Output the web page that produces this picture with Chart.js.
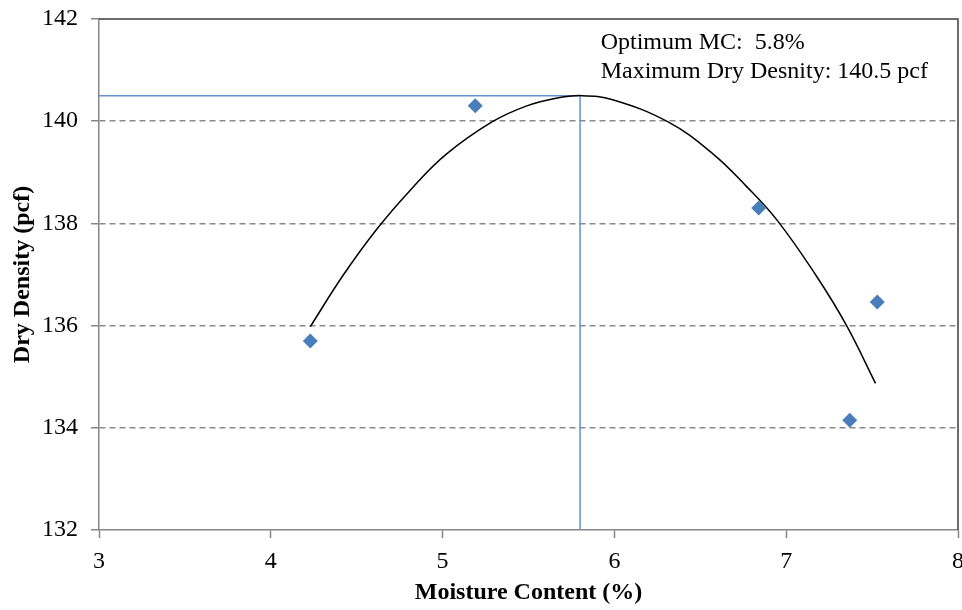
<!DOCTYPE html>
<html>
<head>
<meta charset="utf-8">
<title>Proctor Compaction Curve</title>
<script src="https://cdn.jsdelivr.net/npm/chart.js@4.4.1/dist/chart.umd.min.js"></script>
<style>
    html, body { margin: 0; padding: 0; background: #fff; }
    #wrap { width: 962px; height: 610px; position: relative; }
</style>
</head>
<body>
<div id="wrap"><canvas id="chart"></canvas></div>
<script>
// ---- Test results (moisture %, dry density pcf) ----
const moisture = [4.23, 5.19, 6.84, 7.37, 7.53];
const density = [135.70, 140.30, 138.30, 134.15, 136.46];

// ---- Fitted compaction curve, sampled along its length ----
const fitMoisture = [4.23, 4.42, 4.62, 4.82, 5.02, 5.29, 5.49, 5.66, 5.81, 5.99, 6.31, 6.57, 6.77, 6.95, 7.17, 7.35, 7.52];
const fitDensity = [135.98, 136.98, 137.90, 138.68, 139.35, 139.99, 140.30, 140.45, 140.50, 140.42, 139.99, 139.37, 138.72, 138.05, 137.00, 136.01, 134.87];

// ---- Optimum ----
const optimumMC = 5.8;
const maxDensity = 140.5;

// ---- Axes ----
const xTicks = [3, 4, 5, 6, 7, 8];
const yTicks = [132, 134, 136, 138, 140, 142];

const SERIF = "'Liberation Serif', 'Times New Roman', serif";
const MARKER = '#4a7ebb';
const GUIDE = '#6392cc';
const AXIS = '#868686';

Chart.defaults.font.family = SERIF;
Chart.defaults.font.size = 24;
Chart.defaults.color = '#000';

const xMin = xTicks[0];
const xMax = xTicks[xTicks.length - 1];
const yMin = yTicks[0];
const yMax = yTicks[yTicks.length - 1];

const pts = moisture.map((x, i) => ({ x, y: density[i] }));
const fit = fitMoisture.map((x, i) => ({ x, y: fitDensity[i] }));
const guide = [
    { x: xMin, y: maxDensity },
    { x: optimumMC, y: maxDensity },
    { x: optimumMC, y: yMin },
];

// top and right frame of the plot area
const frame = {
    id: 'frame',
    beforeDatasetsDraw(chart) {
        const { ctx, chartArea: a } = chart;
        ctx.save();
        ctx.strokeStyle = '#3c3c3c';
        ctx.lineWidth = 1.5;
        ctx.beginPath();
        ctx.moveTo(a.left, a.top);
        ctx.lineTo(a.right, a.top);
        ctx.lineTo(a.right, a.bottom);
        ctx.stroke();
        ctx.restore();
    },
};

// optimum summary text
const note = {
    id: 'note',
    afterDatasetsDraw(chart) {
        const { ctx, chartArea: a, scales } = chart;
        const x = scales.x.getPixelForValue(5.92);
        ctx.save();
        ctx.font = `24px ${SERIF}`;
        ctx.fillStyle = '#000';
        ctx.textBaseline = 'middle';
        ctx.fillText(`Optimum MC:  ${optimumMC.toFixed(1)}%`, x, a.top + 24);
        ctx.fillText(`Maximum Dry Desnity: ${maxDensity.toFixed(1)} pcf`, x, a.top + 53);
        ctx.restore();
    },
};

new Chart(document.getElementById('chart'), {
    type: 'scatter',
    data: {
        datasets: [
            {
                label: 'guide',
                type: 'line',
                data: guide,
                borderColor: GUIDE,
                borderWidth: 1.5,
                pointRadius: 0,
                fill: false,
                tension: 0,
                order: 3,
            },
            {
                label: 'fit',
                type: 'line',
                data: fit,
                borderColor: '#000',
                borderWidth: 1.5,
                pointRadius: 0,
                fill: false,
                tension: 0.4,
                order: 2,
            },
            {
                label: 'tests',
                data: pts,
                pointStyle: 'rectRot',
                pointRadius: 7.5,
                pointBackgroundColor: MARKER,
                pointBorderColor: MARKER,
                pointBorderWidth: 0,
                order: 1,
            },
        ],
    },
    options: {
        responsive: true,
        maintainAspectRatio: false,
        animation: false,
        layout: {
            autoPadding: false,
            padding: { top: 19, right: 4, left: 0, bottom: 0 },
        },
        plugins: {
            legend: { display: false },
            tooltip: { enabled: false },
        },
        scales: {
            x: {
                type: 'linear',
                min: xMin,
                max: xMax,
                afterBuildTicks: (s) => { s.ticks = xTicks.map((v) => ({ value: v })); },
                afterFit: (s) => {
                    s.height = 80;
                    s.paddingLeft = 0;
                    s.paddingRight = 0;
                },
                ticks: { padding: 9, color: '#000' },
                grid: {
                    drawOnChartArea: false,
                    tickLength: 8,
                    tickColor: AXIS,
                    tickWidth: 1.5,
                },
                border: { color: AXIS, width: 1.5 },
                title: {
                    display: true,
                    text: 'Moisture Content (%)',
                    font: { weight: 'bold', size: 24 },
                    color: '#000',
                    padding: { top: 0, bottom: 3 },
                },
            },
            y: {
                type: 'linear',
                min: yMin,
                max: yMax,
                afterBuildTicks: (s) => { s.ticks = yTicks.map((v) => ({ value: v })); },
                afterFit: (s) => {
                    s.width = 99;
                    s.paddingTop = 0;
                    s.paddingBottom = 0;
                    s.paddingLeft = 0;
                    s.paddingRight = 0;
                },
                ticks: { padding: 13, color: '#000' },
                grid: {
                    color: (c) => (c.tick && (c.tick.value === yMin || c.tick.value === yMax) ? 'rgba(0,0,0,0)' : '#8a8a8a'),
                    lineWidth: 1.5,
                    tickLength: 8,
                    tickColor: AXIS,
                    tickWidth: 1.5,
                    tickBorderDash: [],
                },
                border: { color: AXIS, width: 1.5, dash: [6, 4] },
                title: {
                    display: true,
                    text: 'Dry Density (pcf)',
                    font: { weight: 'bold', size: 24 },
                    color: '#000',
                    padding: { top: 8, bottom: 0 },
                },
            },
        },
    },
    plugins: [frame, note],
});
</script>
</body>
</html>
